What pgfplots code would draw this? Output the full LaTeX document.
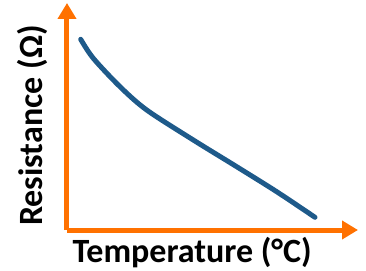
\documentclass[border=0pt]{standalone}
\usepackage{pgfplots}
\pgfplotsset{compat=1.18}
\usepackage{fontspec}
\setmainfont{Carlito}
\usetikzlibrary{arrows.meta}
\definecolor{axisorange}{RGB}{255,113,0}
\definecolor{curveblue}{RGB}{30,90,138}
\begin{document}
\begin{tikzpicture}
\useasboundingbox (-67pt,-40pt) rectangle (299pt,230pt);
\begin{axis}[
  scale only axis,
  width=291pt,
  height=227pt,
  xmin=0, xmax=291,
  ymin=0, ymax=227,
  axis lines=left,
  axis line style={axisorange, line width=5pt, -{Triangle[width=18pt,length=16pt]}},
  xtick=\empty, ytick=\empty,
  xlabel={Temperature (°C)},
  ylabel={Resistance (Ω)},
  label style={font=\fontsize{34}{36}\selectfont\bfseries},
  xlabel style={at={(axis description cs:0.43,-0.144)}, anchor=base},
  ylabel style={at={(axis description cs:-0.084,0.46)}, anchor=base, rotate=0},
  clip=false
]
\addplot[curveblue, line width=5pt, line cap=round, smooth] coordinates {
  (13.7,190.7)
  (26.3,171.7)
  (53,143.3)
  (79.7,120)
  (126.3,90)
  (169.7,63.3)
  (209.7,38.3)
  (248,12.7)
};
\end{axis}
\end{tikzpicture}
\end{document}
